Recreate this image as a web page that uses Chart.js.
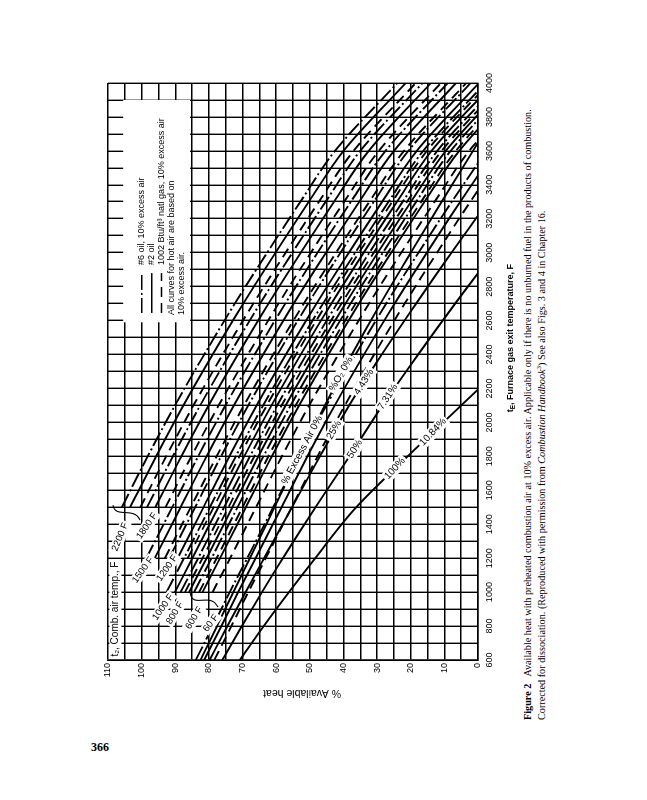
<!DOCTYPE html>
<html lang="en">
<head>
<meta charset="UTF-8">
<title>Available heat with preheated combustion air</title>
<script src="https://cdn.jsdelivr.net/npm/chart.js"></script>
<style>
    html, body { margin: 0; padding: 0; background: #fff; overflow: hidden; }
    body { width: 647px; height: 800px; position: relative; }
    #fig {
        position: absolute;
        left: 60px;
        top: 730px;
        width: 680px;
        height: 500px;
        transform-origin: 0 0;
        transform: rotate(-90deg);
    }
    #fig canvas { position: absolute; left: 0; top: 0; }
    .caption {
        position: absolute;
        left: 10px;
        top: 461px;
        white-space: nowrap;
        font-family: "Liberation Serif", "Times New Roman", serif;
        font-size: 10.2px;
        line-height: 14px;
        color: #000;
    }
    .caption sup { font-size: 7px; line-height: 0; }
    .pageno {
        position: absolute;
        left: 91px;
        top: 741px;
        font-family: "Liberation Serif", "Times New Roman", serif;
        font-weight: bold;
        font-size: 12px;
        line-height: 12px;
    }
</style>
</head>
<body>
<div id="fig">
    <canvas id="heatChart" width="680" height="460"></canvas>
    <div class="caption">
        <b>Figure 2</b>&nbsp;&nbsp; Available heat with preheated combustion air at 10% excess air. Applicable only if there is no unburned fuel in the products of combustion.<br>
        Corrected for dissociation. (Reproduced with permission from <i>Combustion Handbook</i><sup>3</sup>) See also Figs. 3 and 4 in Chapter 16.
    </div>
</div>
<div class="pageno">366</div>

<script>
// furnace gas exit temperature, F
const temps = [600, 800, 1000, 1200, 1500, 1800, 2100, 2400, 2700, 3000, 3300, 3600, 4000];
const n = null;

// 60 F air, various excess air
const ea0   = [82.5, 77.6, 72.7, 67.8, 60.5, 53.2, 45.5, 37.5, 29.0, 20.0, 10.8, 1.5, -11.0];
const ea25  = [79.8, 74.5, 69.1, 63.6, 55.3, 47.0, 38.3, 28.6, 18.4, 7.9, -3.0, n, n];
const ea50  = [76.0, 70.2, 64.2, 58.0, 48.3, 38.2, 28.4, 17.8, 6.8, -4.6, n, n, n];
const ea100 = [70.8, 63.7, 56.2, 48.4, 36.2, 20.9, 5.0, -11.0, n, n, n, n, n];

// 10% excess air, by combustion air temperature
const oil6_60 = [83.9, 78.8, 73.8, 68.6, 60.9, 53.2, 45.1, 36.4, 27.3, 17.7, 7.8, -2.5, n];
const oil2_60 = [81.4, 76.3, 71.3, 66.1, 58.4, 50.7, 42.6, 33.9, 24.8, 15.2, 5.3, -5.0, n];
const gas_60  = [78.4, 73.3, 68.3, 63.1, 55.4, 47.7, 39.6, 30.9, 21.8, 12.2, 2.3, -8.0, n];

const oil6_600 = [n, n, 84.4, 79.2, 71.5, 63.8, 55.7, 47.0, 37.9, 28.3, 18.4, 8.1, -10.4];
const oil2_600 = [n, n, 81.9, 76.7, 69.0, 61.3, 53.2, 44.5, 35.4, 25.8, 15.9, 5.6, -12.9];
const gas_600  = [n, n, 78.9, 73.7, 66.0, 58.3, 50.2, 41.5, 32.4, 22.8, 12.9, 2.6, -15.9];

const oil6_800 = [n, n, 88.4, 83.2, 75.5, 67.8, 59.7, 51.0, 41.9, 32.3, 22.4, 12.1, -6.4];
const oil2_800 = [n, n, 85.9, 80.7, 73.0, 65.3, 57.2, 48.5, 39.4, 29.8, 19.9, 9.6, -8.9];
const gas_800  = [n, n, 82.9, 77.7, 70.0, 62.3, 54.2, 45.5, 36.4, 26.8, 16.9, 6.6, -11.9];

const oil6_1000 = [n, n, 92.6, 87.4, 79.7, 72.0, 63.9, 55.2, 46.1, 36.5, 26.6, 16.3, -2.2];
const oil2_1000 = [n, n, 90.1, 84.9, 77.2, 69.5, 61.4, 52.7, 43.6, 34.0, 24.1, 13.8, -4.7];
const gas_1000  = [n, n, 87.1, 81.9, 74.2, 66.5, 58.4, 49.7, 40.6, 31.0, 21.1, 10.8, -7.7];

const oil6_1200 = [n, n, n, 91.8, 84.1, 76.4, 68.3, 59.6, 50.5, 40.9, 31.0, 20.7, 2.2];
const oil2_1200 = [n, n, n, 89.3, 81.6, 73.9, 65.8, 57.1, 48.0, 38.4, 28.5, 18.2, -0.3];
const gas_1200  = [n, n, n, 86.3, 78.6, 70.9, 62.8, 54.1, 45.0, 35.4, 25.5, 15.2, -3.3];

const oil6_1500 = [n, n, n, 98.6, 90.9, 83.2, 75.1, 66.4, 57.3, 47.7, 37.8, 27.5, 9.0];
const oil2_1500 = [n, n, n, 96.1, 88.4, 80.7, 72.6, 63.9, 54.8, 45.2, 35.3, 25.0, 6.5];
const gas_1500  = [n, n, n, 93.1, 85.4, 77.7, 69.6, 60.9, 51.8, 42.2, 32.3, 22.0, 3.5];

const oil6_1800 = [n, n, n, n, 98.4, 90.7, 82.6, 73.9, 64.8, 55.2, 45.3, 35.0, 16.5];
const oil2_1800 = [n, n, n, n, 95.9, 88.2, 80.1, 71.4, 62.3, 52.7, 42.8, 32.5, 14.0];
const gas_1800  = [n, n, n, n, 92.9, 85.2, 77.1, 68.4, 59.3, 49.7, 39.8, 29.5, 11.0];

const oil6_2200 = [n, n, n, n, 105.9, 98.2, 90.1, 81.4, 72.3, 62.7, 52.8, 42.5, 24.0];
const oil2_2200 = [n, n, n, n, 103.4, 95.7, 87.6, 78.9, 69.8, 60.2, 50.3, 40.0, 21.5];
const gas_2200  = [n, n, n, n, 100.4, 92.7, 84.6, 75.9, 66.8, 57.2, 47.3, 37.0, 18.5];

// text on the curves: temperature, % available heat, angle
const curveLabels = [
    { text: '2200 F', t: 1325, ah: 106.4, rot: 22 },
    { text: '1800 F', t: 1390, ah: 98.4, rot: 35 },
    { text: '1500 F', t: 1130, ah: 99.6, rot: 36 },
    { text: '1200 F', t: 1142, ah: 92.4, rot: 35 },
    { text: '1000 F', t: 912, ah: 93.6, rot: 35 },
    { text: '800 F', t: 877, ah: 90.1, rot: 32 },
    { text: '600 F', t: 847, ah: 84.4, rot: 32 },
    { text: '60 F', t: 818, ah: 79.4, rot: 37 },
    { text: '% Excess Air 0%', t: 1837, ah: 52.3, rot: 28 },
    { text: '%O\u2082 0%', t: 2285, ah: 40.7, rot: 30 },
    { text: '25%', t: 1955, ah: 42.8, rot: 30 },
    { text: '4.43%', t: 2238, ah: 33.9, rot: 32 },
    { text: '50%', t: 1843, ah: 36.6, rot: 33 },
    { text: '7.31%', t: 2150, ah: 26.8, rot: 33 },
    { text: '100%', t: 1728, ah: 24.7, rot: 43 },
    { text: '10.84%', t: 1943, ah: 13.4, rot: 43 }
];

const DASH = [10, 6];
const DASHDOT = [15, 3, 2, 3];

function pts(vals) {
    return temps.map((t, i) => ({ x: t, y: vals[i] })).filter(p => p.y !== null);
}

function line(vals, dash) {
    return {
        data: pts(vals),
        borderColor: '#000',
        borderWidth: 1.9,
        borderDash: dash || [],
        pointRadius: 0,
        fill: false,
        cubicInterpolationMode: 'monotone'
    };
}

const datasets = [
    line(ea0), line(ea25), line(ea50), line(ea100),
    line(oil6_60, DASHDOT), line(oil2_60), line(gas_60, DASH),
    line(oil6_600, DASHDOT), line(oil2_600), line(gas_600, DASH),
    line(oil6_800, DASHDOT), line(oil2_800), line(gas_800, DASH),
    line(oil6_1000, DASHDOT), line(oil2_1000), line(gas_1000, DASH),
    line(oil6_1200, DASHDOT), line(oil2_1200), line(gas_1200, DASH),
    line(oil6_1500, DASHDOT), line(oil2_1500), line(gas_1500, DASH),
    line(oil6_1800, DASHDOT), line(oil2_1800), line(gas_1800, DASH),
    line(oil6_2200, DASHDOT), line(oil2_2200), line(gas_2200, DASH)
];

const SANS = '"Liberation Sans", Arial, Helvetica, sans-serif';

function labelText(ctx, text, px, py, rot, size) {
    ctx.save();
    ctx.translate(px, py);
    ctx.rotate(rot * Math.PI / 180);
    ctx.font = size + 'px ' + SANS;
    const w = ctx.measureText(text).width;
    ctx.fillStyle = '#fff';
    ctx.fillRect(-w / 2 - 2, -size * 0.6, w + 4, size * 1.2);
    ctx.fillStyle = '#000';
    ctx.textAlign = 'center';
    ctx.textBaseline = 'middle';
    ctx.fillText(text, 0, 0);
    ctx.restore();
}

const overlay = {
    id: 'overlay',
    beforeDatasetsDraw(chart) {
        const { ctx, scales: { x, y } } = chart;
        ctx.save();
        // legend box, blanks the grid
        const bx0 = x.getPixelForValue(2590), bx1 = x.getPixelForValue(3900);
        const by0 = y.getPixelForValue(105.5), by1 = y.getPixelForValue(85.6);
        ctx.fillStyle = '#fff';
        ctx.fillRect(bx0, by0, bx1 - bx0, by1 - by0);

        const rows = [100.0, 97.0, 94.1, 91.0, 88.0];
        const dashes = [DASHDOT, [], DASH];
        const s0 = x.getPixelForValue(2645), s1 = x.getPixelForValue(2880);
        ctx.strokeStyle = '#000';
        ctx.lineWidth = 1.5;
        dashes.forEach((d, i) => {
            const py = y.getPixelForValue(rows[i]);
            ctx.setLineDash(d);
            ctx.beginPath();
            ctx.moveTo(s0, py);
            ctx.lineTo(s1, py);
            ctx.stroke();
        });
        ctx.setLineDash([]);
        ctx.fillStyle = '#000';
        ctx.font = '9px ' + SANS;
        ctx.textBaseline = 'middle';
        ctx.textAlign = 'left';
        const tx = x.getPixelForValue(2928);
        ctx.fillText('#6 oil, 10% excess air', tx, y.getPixelForValue(rows[0]));
        ctx.fillText('#2 oil', tx, y.getPixelForValue(rows[1]));
        ctx.fillText('1002 Btu/ft\u00b3 natl gas, 10% excess air', tx, y.getPixelForValue(rows[2]));
        const tx2 = x.getPixelForValue(2633);
        ctx.fillText('All curves for hot air are based on', tx2, y.getPixelForValue(rows[3]));
        ctx.fillText('10% excess air.', tx2, y.getPixelForValue(rows[4]));
        ctx.restore();
    },
    afterDatasetsDraw(chart) {
        const { ctx, scales: { x, y } } = chart;
        curveLabels.forEach(l => {
            labelText(ctx, l.text, x.getPixelForValue(l.t), y.getPixelForValue(l.ah), l.rot,
                l.text.indexOf('F') > 0 ? 9.5 : 10);
        });

        // combustion air temperature caption inside the plot
        ctx.save();
        ctx.font = '10px ' + SANS;
        const cap = 't\u2082, Comb. air temp., F';
        const cx = x.getPixelForValue(620), cy = y.getPixelForValue(107.8);
        const cw = ctx.measureText(cap).width;
        ctx.fillStyle = '#fff';
        ctx.fillRect(cx - 2, cy - 6, cw + 4, 12);
        ctx.fillStyle = '#000';
        ctx.textBaseline = 'middle';
        ctx.fillText(cap, cx, cy);

        // small braces
        ctx.strokeStyle = '#000';
        ctx.lineWidth = 1.1;
        ctx.beginPath();
        let p0 = [x.getPixelForValue(1513), y.getPixelForValue(108.5)];
        let p1 = [x.getPixelForValue(1425), y.getPixelForValue(100.5)];
        ctx.moveTo(p0[0], p0[1]);
        ctx.bezierCurveTo(p0[0] - 14, p0[1] + 2, p1[0] + 14, p1[1] - 6, p1[0], p1[1]);
        ctx.stroke();
        ctx.beginPath();
        p0 = [x.getPixelForValue(1001), y.getPixelForValue(85.6)];
        p1 = [x.getPixelForValue(912), y.getPixelForValue(77.3)];
        ctx.moveTo(p0[0], p0[1]);
        ctx.bezierCurveTo(p0[0] - 18, p0[1] + 2, p1[0] + 16, p1[1] - 8, p1[0], p1[1]);
        ctx.stroke();
        ctx.restore();
    },
    afterDraw(chart) {
        const { ctx, scales: { x, y } } = chart;
        ctx.save();
        ctx.fillStyle = '#000';
        // x title with subscript E
        const xt = x.getPixelForValue(2497), yt = 450;
        ctx.font = 'bold 9px ' + SANS;
        const rest = ', Furnace gas exit temperature, F';
        const wT = ctx.measureText('t').width;
        const wR = ctx.measureText(rest).width;
        ctx.font = 'bold 6.5px ' + SANS;
        const wE = ctx.measureText('E').width;
        let sx = xt - (wT + wE + wR) / 2;
        ctx.textBaseline = 'alphabetic';
        ctx.font = 'bold 9px ' + SANS;
        ctx.fillText('t', sx, yt + 3);
        ctx.font = 'bold 6.5px ' + SANS;
        ctx.fillText('E', sx + wT, yt + 5);
        ctx.font = 'bold 9px ' + SANS;
        ctx.fillText(rest, sx + wT + wE, yt + 3);

        // y title
        ctx.translate(37, y.getPixelForValue(52.3));
        ctx.rotate(-Math.PI / 2);
        ctx.font = '10.5px ' + SANS;
        ctx.textAlign = 'center';
        ctx.textBaseline = 'middle';
        ctx.fillText('% Available heat', 0, 0);
        ctx.restore();
    }
};

Chart.defaults.font.family = SANS;
Chart.defaults.color = '#000';

new Chart(document.getElementById('heatChart'), {
    type: 'line',
    data: { datasets: datasets },
    options: {
        responsive: false,
        animation: false,
        layout: { padding: { top: 48, right: 33, left: 0, bottom: 0 } },
        plugins: { legend: { display: false }, tooltip: { enabled: false } },
        scales: {
            x: {
                type: 'linear',
                min: 600,
                max: 4000,
                afterFit: s => { s.height = 42; },
                grid: { color: '#000', lineWidth: 1.4, drawTicks: false },
                border: { color: '#000', width: 1.6 },
                ticks: {
                    stepSize: 100,
                    autoSkip: false,
                    maxRotation: 0,
                    padding: 6,
                    font: { size: 9 },
                    callback: v => (v % 200 === 0 ? v : '')
                }
            },
            y: {
                min: 0,
                max: 110,
                afterFit: s => { s.width = 70; },
                grid: { color: '#000', lineWidth: 1.4, drawTicks: false },
                border: { color: '#000', width: 1.6 },
                ticks: {
                    stepSize: 5,
                    autoSkip: false,
                    padding: 3,
                    font: { size: 9 },
                    callback: v => (v % 10 === 0 ? v : '')
                }
            }
        }
    },
    plugins: [overlay]
});
</script>
</body>
</html>
